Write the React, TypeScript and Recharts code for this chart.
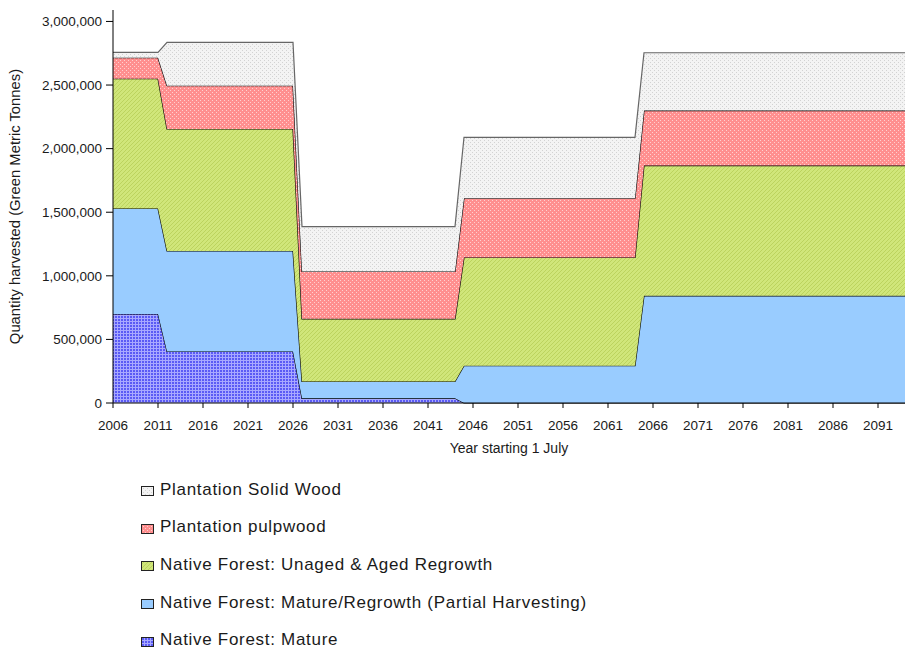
import { AreaChart, Area, XAxis, YAxis } from "recharts";

const FIRST_YEAR = 2006;
const LAST_YEAR = 2094;

// harvest levels stay flat from each of these start years until the next one
const periodStarts = [2006, 2012, 2027, 2045, 2065];

const nativeMature = [700000, 405000, 37000, 0, 0];
const nativePartial = [830000, 790000, 133000, 293000, 843000];
const nativeRegrowth = [1020000, 960000, 492000, 851000, 1024000];
const plantationPulp = [165000, 340000, 372000, 466000, 432000];
const plantationSolid = [42000, 341000, 353000, 479000, 455000];

const yTicks = [0, 500000, 1000000, 1500000, 2000000, 2500000, 3000000];

const series = [
  { key: "mature", name: "Native Forest: Mature", values: nativeMature, fill: "url(#pat-mature)", stroke: "#000" },
  { key: "partial", name: "Native Forest: Mature/Regrowth (Partial Harvesting)", values: nativePartial, fill: "#99ccff", stroke: "#000" },
  { key: "regrowth", name: "Native Forest: Unaged & Aged Regrowth", values: nativeRegrowth, fill: "url(#pat-regrowth)", stroke: "#000" },
  { key: "pulp", name: "Plantation pulpwood", values: plantationPulp, fill: "url(#pat-pulp)", stroke: "#000" },
  { key: "solid", name: "Plantation Solid Wood", values: plantationSolid, fill: "url(#pat-solid)", stroke: "#666" },
];

const data: Record<string, number>[] = [];
for (let year = FIRST_YEAR; year <= LAST_YEAR; year++) {
  let p = 0;
  while (p + 1 < periodStarts.length && periodStarts[p + 1] <= year) p++;
  const row: Record<string, number> = { year };
  series.forEach((s) => (row[s.key] = s.values[p]));
  data.push(row);
}

const FONT = "'Liberation Sans', Arial, sans-serif";
const INK = "#1a1a1a";
const tickStyle = { fontSize: 13.5, fill: INK, fontFamily: FONT };

function Patterns() {
  return (
    <defs>
      <pattern id="pat-mature" width="3" height="3" patternUnits="userSpaceOnUse">
        <rect width="3" height="3" fill="#5a5af5" />
        <rect width="3" height="1" fill="#a8a8ff" />
        <rect width="1" height="3" fill="#a8a8ff" />
      </pattern>
      <pattern id="pat-regrowth" width="4" height="4" patternUnits="userSpaceOnUse">
        <rect width="4" height="4" fill="#d0e67a" />
        <path d="M0,4 L4,0 M-1,1 L1,-1 M3,5 L5,3" stroke="#bcd35e" strokeWidth="1" />
      </pattern>
      <pattern id="pat-pulp" width="4" height="4" patternUnits="userSpaceOnUse">
        <rect width="4" height="4" fill="#ff8f8f" />
        <rect x="0" y="0" width="1" height="1" fill="#ffd0d0" />
        <rect x="2" y="2" width="1" height="1" fill="#ffd0d0" />
      </pattern>
      <pattern id="pat-solid" width="4" height="4" patternUnits="userSpaceOnUse">
        <rect width="4" height="4" fill="#f3f3f3" />
        <rect x="0" y="0" width="1" height="1" fill="#d2d2d2" />
        <rect x="2" y="2" width="1" height="1" fill="#d2d2d2" />
      </pattern>
    </defs>
  );
}

export default function App() {
  const legendItems = [...series].reverse();
  return (
    <div style={{ position: "absolute", left: 0, top: 0, width: 906, height: 651, background: "#fff", fontFamily: FONT }}>
      <AreaChart width={906} height={460} data={data} margin={{ top: 10, right: 1, left: 0, bottom: 0 }}>
        <Patterns />
        <XAxis
          dataKey="year"
          interval={4}
          height={57}
          stroke="#000"
          tickSize={5}
          tickMargin={12}
          tick={tickStyle}
          label={{ value: "Year starting 1 July", position: "insideBottom", offset: 7, style: { fontSize: 14, fill: INK, fontFamily: FONT } }}
        />
        <YAxis
          width={113}
          domain={[0, 3090000]}
          ticks={yTicks}
          stroke="#000"
          tickSize={7}
          tickMargin={4}
          tick={tickStyle}
          tickFormatter={(v: number) => v.toLocaleString("en-US")}
          label={{
            value: "Quantity harvested (Green Metric Tonnes)",
            angle: -90,
            position: "insideLeft",
            offset: 15,
            style: { fontSize: 14.8, fill: INK, fontFamily: FONT, textAnchor: "middle" },
          }}
        />
        {series.map((s) => (
          <Area
            key={s.key}
            type="linear"
            dataKey={s.key}
            name={s.name}
            stackId="harvest"
            fill={s.fill}
            fillOpacity={1}
            stroke={s.stroke}
            strokeWidth={1.2}
            isAnimationActive={false}
          />
        ))}
      </AreaChart>
      <div style={{ position: "absolute", left: 141, top: 471 }}>
        {legendItems.map((s) => (
          <div
            key={s.key}
            style={{ display: "flex", alignItems: "center", height: 37.6, fontSize: 17, letterSpacing: 0.7, color: INK }}
          >
            <svg width={13} height={10} style={{ marginRight: 6, marginTop: 3 }}>
              <rect x={0.5} y={0.5} width={12} height={9} fill={s.fill} stroke="#222" />
            </svg>
            <span>{s.name}</span>
          </div>
        ))}
      </div>
    </div>
  );
}
